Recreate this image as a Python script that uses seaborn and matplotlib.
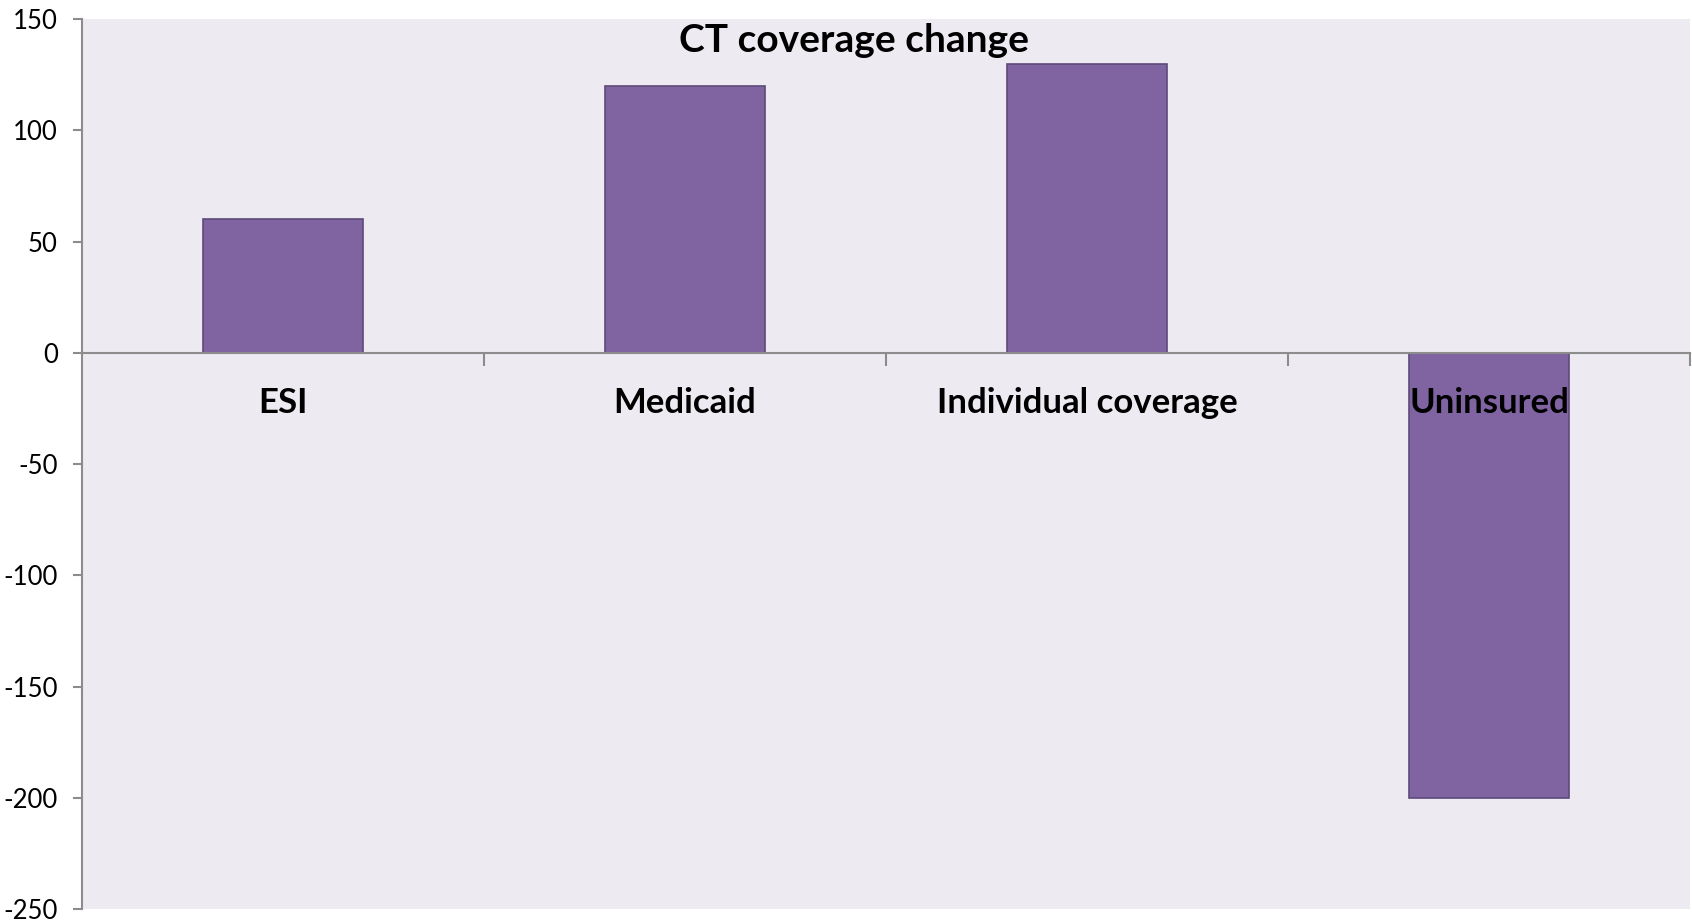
import matplotlib
matplotlib.use("Agg")
import matplotlib.pyplot as plt
import seaborn as sns
import pandas as pd
from matplotlib.ticker import FixedLocator

categories = ["ESI", "Medicaid", "Individual coverage", "Uninsured"]
values = [60, 120, 130, -200]
y_ticks = [150, 100, 50, 0, -50, -100, -150, -200, -250]

sns.set_theme(style="white")
plt.rcParams["font.family"] = ["Lato", "DejaVu Sans"]
plt.rcParams["text.color"] = "black"
plt.rcParams["xtick.labelcolor"] = "black"
plt.rcParams["ytick.labelcolor"] = "black"

df = pd.DataFrame({"category": categories, "change": values})

fig = plt.figure(figsize=(16.92, 9.22), dpi=100)
ax = fig.add_axes([82 / 1692, 1 - 909 / 922, (1690 - 82) / 1692, (909 - 19) / 922])
ax.set_facecolor("#EDEBF1")

sns.barplot(data=df, x="category", y="change", color="#8064A2", width=0.4,
            edgecolor="#5E4A7A", linewidth=1.2, saturation=1, ax=ax, zorder=2)

ax.set_xlim(-0.5, 3.5)
ax.set_ylim(-250, 150)
ax.set_yticks(y_ticks)
ax.set_yticklabels([str(t) for t in y_ticks], fontsize=18.5)
ax.set_xlabel("")
ax.set_ylabel("")

for side in ["top", "right"]:
    ax.spines[side].set_visible(False)
ax.spines["left"].set_color("#8C8C8C")
ax.spines["left"].set_linewidth(1.5)
ax.spines["bottom"].set_position(("data", 0))
ax.spines["bottom"].set_color("#8C8C8C")
ax.spines["bottom"].set_linewidth(1.5)
ax.spines["bottom"].set_zorder(3)

ax.tick_params(axis="y", length=6.5, width=1.5, color="#8C8C8C", left=True, pad=11)
ax.tick_params(axis="x", which="major", length=0, pad=25)
ax.xaxis.set_minor_locator(FixedLocator([0.5, 1.5, 2.5, 3.5]))
ax.tick_params(axis="x", which="minor", length=9, width=1.5, color="#8C8C8C",
               direction="out", bottom=True)
for lab in ax.get_xticklabels():
    lab.set_fontsize(25)
    lab.set_fontweight("bold")
# category names sit on top of the bars
ax.xaxis.set_zorder(4)

fig.text(854 / 1692, 1 - 40 / 922, "CT coverage change", fontsize=28,
         fontweight="bold", ha="center", va="center")

fig.savefig("out.png", dpi=100)
